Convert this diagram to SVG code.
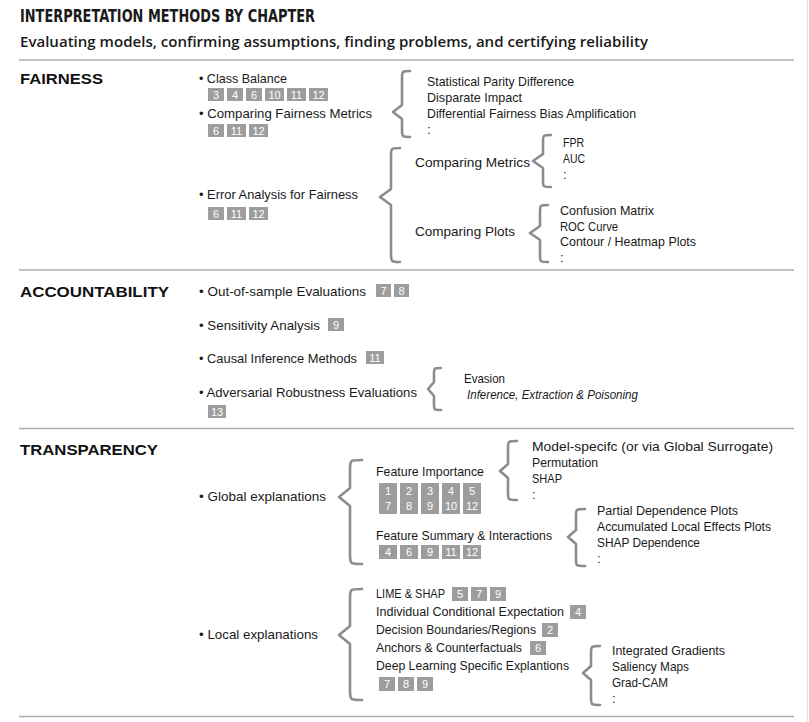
<svg xmlns="http://www.w3.org/2000/svg" width="809" height="722" viewBox="0 0 809 722">
<style>
.t{font-family:"Liberation Sans",Arial,sans-serif;font-size:13px;fill:#1a1a1a}
.s{font-size:12.3px}
.ti{font-family:"Liberation Sans",Arial,sans-serif;font-size:13px;fill:#1a1a1a;font-style:italic}
.h{font-family:"Liberation Sans",Arial,sans-serif;font-size:15.5px;font-weight:bold;fill:#111}
.b rect{fill:#9d9d9d}
.b text{font-family:"Liberation Sans",Arial,sans-serif;font-size:11px;fill:#fff;text-anchor:middle}
.br{fill:none;stroke:#8c8c8c;stroke-width:2.6;stroke-linejoin:round;stroke-linecap:round}
.sep{stroke:#ababab;stroke-width:1.6}
</style>
<rect width="809" height="722" fill="#fff"/>
<line x1="807.5" y1="0" x2="807.5" y2="722" stroke="#e2e2e2" stroke-width="1"/>
<text x="20" y="22" font-family="DejaVu Sans Condensed,DejaVu Sans,sans-serif" font-stretch="condensed" font-weight="bold" font-size="18" fill="#1a1a1a" textLength="295" lengthAdjust="spacingAndGlyphs">INTERPRETATION METHODS BY CHAPTER</text>
<text x="20" y="47" font-family="Open Sans,Liberation Sans,sans-serif" font-weight="600" font-size="14.5" fill="#1a1a1a" textLength="628" lengthAdjust="spacingAndGlyphs">Evaluating models, confirming assumptions, finding problems, and certifying reliability</text>
<g id="separators">
<line class="sep" x1="19" y1="60" x2="794" y2="60"/>
<line class="sep" x1="19" y1="270" x2="794" y2="270"/>
<line class="sep" x1="19" y1="428.5" x2="794" y2="428.5"/>
<line class="sep" x1="19" y1="716.5" x2="794" y2="716.5"/>
</g>
<g id="connectors">
<path class="br" d="M410,71 C402,71 402,71 402,79 L402,105 L393,112 L402,119 L402,129 C402,137 402,137 410,137"/>
<path class="br" d="M400,148 C391,148 391,148 391,157 L391,189 L380,197 L391,205 L391,253 C391,262 391,262 400,262"/>
<path class="br" d="M551,135 C543,135 543,135 543,142 L543,154 L533,161 L543,168 L543,180 C543,187 543,187 551,187"/>
<path class="br" d="M548,205 C540,205 540,205 540,212 L540,226 L530,233 L540,240 L540,255 C540,262 540,262 548,262"/>
<path class="br" d="M441,368 C434,368 434,368 434,374 L434,382 L428,389 L434,396 L434,404 C434,410 434,410 441,410"/>
<path class="br" d="M362,460 C350,460 350,460 350,470 L350,488 L339,497 L350,506 L350,554 C350,564 350,564 362,564"/>
<path class="br" d="M517,441 C508,441 508,441 508,449 L508,464 L500,471 L508,478 L508,492 C508,500 508,500 517,500"/>
<path class="br" d="M585,509 C576,509 576,509 576,516 L576,530 L568,537 L576,544 L576,559 C576,566 576,566 585,566"/>
<path class="br" d="M362,589 C350,589 350,589 350,599 L350,626 L339,635 L350,644 L350,690 C350,700 350,700 362,700"/>
<path class="br" d="M600,646 C591,646 591,646 591,654 L591,666 L583,673 L591,680 L591,697 C591,705 591,705 600,705"/>
</g>
<g id="fairness">
<text class="h" x="20" y="84" textLength="83" lengthAdjust="spacingAndGlyphs">FAIRNESS</text>
<g id="class-balance">
<text class="t" x="199" y="83" textLength="88" lengthAdjust="spacingAndGlyphs">• Class Balance</text>
<g class="b"><rect x="208" y="88" width="16" height="13"/><text x="216" y="98.5">3</text>
<rect x="227" y="88" width="16" height="13"/><text x="235" y="98.5">4</text>
<rect x="246" y="88" width="16" height="13"/><text x="254" y="98.5">6</text>
<rect x="265" y="88" width="19" height="13"/><text x="274.5" y="98.5">10</text>
<rect x="287" y="88" width="19" height="13"/><text x="296.5" y="98.5">11</text>
<rect x="309" y="88" width="19" height="13"/><text x="318.5" y="98.5">12</text></g>
</g>
<g id="comparing-fairness-metrics">
<text class="t" x="199" y="118" textLength="173" lengthAdjust="spacingAndGlyphs">• Comparing Fairness Metrics</text>
<g class="b"><rect x="208" y="124" width="16" height="13"/><text x="216" y="134.5">6</text>
<rect x="227" y="124" width="19" height="13"/><text x="236.5" y="134.5">11</text>
<rect x="249" y="124" width="19" height="13"/><text x="258.5" y="134.5">12</text></g>
</g>
<g id="fairness-metrics-list">
<text class="t" x="427" y="86" textLength="147" lengthAdjust="spacingAndGlyphs">Statistical Parity Difference</text>
<text class="t" x="427" y="102" textLength="95" lengthAdjust="spacingAndGlyphs">Disparate Impact</text>
<text class="t" x="427" y="118" textLength="209" lengthAdjust="spacingAndGlyphs">Differential Fairness Bias Amplification</text>
<text class="t" x="427" y="134">:</text>
</g>
<g id="error-analysis">
<text class="t" x="199" y="199" textLength="159" lengthAdjust="spacingAndGlyphs">• Error Analysis for Fairness</text>
<g class="b"><rect x="208" y="207" width="16" height="13"/><text x="216" y="217.5">6</text>
<rect x="227" y="207" width="19" height="13"/><text x="236.5" y="217.5">11</text>
<rect x="249" y="207" width="19" height="13"/><text x="258.5" y="217.5">12</text></g>
</g>
<g id="comparing-metrics">
<text class="t" x="415" y="167" textLength="115" lengthAdjust="spacingAndGlyphs">Comparing Metrics</text>
<text class="t" x="563" y="147" textLength="21" lengthAdjust="spacingAndGlyphs">FPR</text>
<text class="t" x="563" y="163" textLength="22" lengthAdjust="spacingAndGlyphs">AUC</text>
<text class="t" x="563" y="179">:</text>
</g>
<g id="comparing-plots">
<text class="t" x="415" y="236" textLength="100" lengthAdjust="spacingAndGlyphs">Comparing Plots</text>
<text class="t" x="560" y="215" textLength="94" lengthAdjust="spacingAndGlyphs">Confusion Matrix</text>
<text class="t" x="560" y="231" textLength="58" lengthAdjust="spacingAndGlyphs">ROC Curve</text>
<text class="t" x="560" y="246" textLength="136" lengthAdjust="spacingAndGlyphs">Contour / Heatmap Plots</text>
<text class="t" x="560" y="262">:</text>
</g>
</g>
<g id="accountability">
<text class="h" x="20" y="297" textLength="149" lengthAdjust="spacingAndGlyphs">ACCOUNTABILITY</text>
<g id="out-of-sample">
<text class="t" x="199" y="296" textLength="167" lengthAdjust="spacingAndGlyphs">• Out-of-sample Evaluations</text>
<g class="b"><rect x="376" y="284" width="15" height="13"/><text x="383.5" y="294.5">7</text>
<rect x="394" y="284" width="15" height="13"/><text x="401.5" y="294.5">8</text></g>
</g>
<g id="sensitivity">
<text class="t" x="199" y="330" textLength="121" lengthAdjust="spacingAndGlyphs">• Sensitivity Analysis</text>
<g class="b"><rect x="328" y="318" width="16" height="13"/><text x="336" y="328.5">9</text></g>
</g>
<g id="causal">
<text class="t" x="199" y="363" textLength="158" lengthAdjust="spacingAndGlyphs">• Causal Inference Methods</text>
<g class="b"><rect x="366" y="351" width="18" height="13"/><text x="375" y="361.5">11</text></g>
</g>
<g id="adversarial">
<text class="t" x="199" y="397" textLength="218" lengthAdjust="spacingAndGlyphs">• Adversarial Robustness Evaluations</text>
<g class="b"><rect x="208" y="405" width="18" height="13"/><text x="217" y="415.5">13</text></g>
<text class="t" x="464" y="383" textLength="41" lengthAdjust="spacingAndGlyphs">Evasion</text>
<text class="ti" x="467" y="399" textLength="171" lengthAdjust="spacingAndGlyphs">Inference, Extraction &amp; Poisoning</text>
</g>
</g>
<g id="transparency">
<text class="h" x="20" y="455" textLength="138" lengthAdjust="spacingAndGlyphs">TRANSPARENCY</text>
<g id="global">
<text class="t" x="199" y="501" textLength="127" lengthAdjust="spacingAndGlyphs">• Global explanations</text>
</g>
<g id="feature-importance">
<text class="t" x="376" y="476" textLength="108" lengthAdjust="spacingAndGlyphs">Feature Importance</text>
<g class="b">
<rect x="379" y="483" width="18" height="31"/><text x="388" y="494.5">1</text><text x="388" y="510">7</text>
<rect x="400" y="483" width="18" height="31"/><text x="409" y="494.5">2</text><text x="409" y="510">8</text>
<rect x="421" y="483" width="18" height="31"/><text x="430" y="494.5">3</text><text x="430" y="510">9</text>
<rect x="442" y="483" width="18" height="31"/><text x="451" y="494.5">4</text><text x="451" y="510">10</text>
<rect x="463" y="483" width="18" height="31"/><text x="472" y="494.5">5</text><text x="472" y="510">12</text>
</g>
<text class="t" x="532" y="451" textLength="241" lengthAdjust="spacingAndGlyphs">Model-specifc (or via Global Surrogate)</text>
<text class="t" x="532" y="467" textLength="66" lengthAdjust="spacingAndGlyphs">Permutation</text>
<text class="t" x="532" y="483" textLength="30" lengthAdjust="spacingAndGlyphs">SHAP</text>
<text class="t" x="532" y="499">:</text>
</g>
<g id="feature-summary">
<text class="t" x="376" y="540" textLength="176" lengthAdjust="spacingAndGlyphs">Feature Summary &amp; Interactions</text>
<g class="b">
<rect x="379" y="545" width="18" height="14"/><text x="388" y="556">4</text>
<rect x="400" y="545" width="18" height="14"/><text x="409" y="556">6</text>
<rect x="421" y="545" width="18" height="14"/><text x="430" y="556">9</text>
<rect x="442" y="545" width="18" height="14"/><text x="451" y="556">11</text>
<rect x="463" y="545" width="18" height="14"/><text x="472" y="556">12</text>
</g>
<text class="t" x="597" y="515" textLength="141" lengthAdjust="spacingAndGlyphs">Partial Dependence Plots</text>
<text class="t" x="597" y="531" textLength="174" lengthAdjust="spacingAndGlyphs">Accumulated Local Effects Plots</text>
<text class="t" x="597" y="547" textLength="103" lengthAdjust="spacingAndGlyphs">SHAP Dependence</text>
<text class="t" x="597" y="563">:</text>
</g>
<g id="local">
<text class="t" x="199" y="639" textLength="119" lengthAdjust="spacingAndGlyphs">• Local explanations</text>
</g>
<g id="lime-shap">
<text class="t s" x="376" y="598" textLength="69" lengthAdjust="spacingAndGlyphs">LIME &amp; SHAP</text>
<g class="b"><rect x="452" y="587" width="16" height="14"/><text x="460" y="598">5</text>
<rect x="471" y="587" width="16" height="14"/><text x="479" y="598">7</text>
<rect x="490" y="587" width="16" height="14"/><text x="498" y="598">9</text></g>
</g>
<g id="ice">
<text class="t s" x="376" y="616" textLength="188" lengthAdjust="spacingAndGlyphs">Individual Conditional Expectation</text>
<g class="b"><rect x="570" y="605" width="16" height="14"/><text x="578" y="616">4</text></g>
</g>
<g id="decision-boundaries">
<text class="t s" x="376" y="634" textLength="160" lengthAdjust="spacingAndGlyphs">Decision Boundaries/Regions</text>
<g class="b"><rect x="542" y="623" width="16" height="14"/><text x="550" y="634">2</text></g>
</g>
<g id="anchors">
<text class="t s" x="376" y="652" textLength="146" lengthAdjust="spacingAndGlyphs">Anchors &amp; Counterfactuals</text>
<g class="b"><rect x="530" y="641" width="16" height="14"/><text x="538" y="652">6</text></g>
</g>
<g id="deep-learning">
<text class="t" x="376" y="670" textLength="193" lengthAdjust="spacingAndGlyphs">Deep Learning Specific Explantions</text>
<g class="b"><rect x="379" y="677" width="16" height="14"/><text x="387" y="688">7</text>
<rect x="398" y="677" width="16" height="14"/><text x="406" y="688">8</text>
<rect x="417" y="677" width="16" height="14"/><text x="425" y="688">9</text></g>
<text class="t" x="612" y="655" textLength="113" lengthAdjust="spacingAndGlyphs">Integrated Gradients</text>
<text class="t" x="612" y="671" textLength="77" lengthAdjust="spacingAndGlyphs">Saliency Maps</text>
<text class="t" x="612" y="687" textLength="56" lengthAdjust="spacingAndGlyphs">Grad-CAM</text>
<text class="t" x="612" y="703">:</text>
</g>
</g>
</svg>
